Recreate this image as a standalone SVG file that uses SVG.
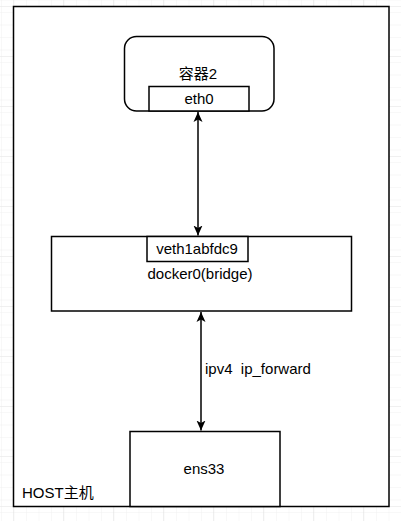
<svg xmlns="http://www.w3.org/2000/svg" width="401" height="521" viewBox="0 0 401 521">
<defs>
<pattern id="minor" x="13" y="6" width="12.5" height="12.5" patternUnits="userSpaceOnUse">
<path d="M0 0H12.5M0 0V12.5" fill="none" stroke="#f0f0f0" stroke-width="1"/>
</pattern>
<pattern id="major" x="13" y="6" width="50" height="50" patternUnits="userSpaceOnUse">
<rect width="50" height="50" fill="url(#minor)"/>
<path d="M0 0H50M0 0V50" fill="none" stroke="#e2e2e2" stroke-width="1"/>
</pattern>
<marker id="arr" viewBox="0 0 10 10" refX="10" refY="5" markerWidth="10" markerHeight="10" markerUnits="userSpaceOnUse" orient="auto-start-reverse">
<path d="M0 0.5L10 5L0 9.5L2.5 5Z" fill="#000"/>
</marker>
</defs>
<style>
.box{fill:#fff;stroke:#000;stroke-width:1.5}
.t{font-family:"Liberation Sans",Arial,"Noto Sans CJK SC",sans-serif;font-size:15px;fill:#000}
.c{text-anchor:middle}
.edge{stroke:#000;stroke-width:1.5;fill:none}
</style>
<rect width="401" height="521" fill="#fff"/>
<rect width="401" height="521" fill="url(#major)"/>
<g id="host">
<rect class="box" x="13.5" y="6.5" width="375.5" height="500"/>
<text class="t" x="22" y="498">HOST主机</text>
</g>
<g id="container2">
<rect class="box" x="124.5" y="36.5" width="149.5" height="74.5" rx="12" ry="12"/>
<text class="t c" x="198" y="79">容器2</text>
</g>
<g id="eth0">
<rect class="box" x="149" y="86.5" width="100" height="24.5"/>
<text class="t c" x="199" y="104">eth0</text>
</g>
<g id="docker0">
<rect class="box" x="51.5" y="236.5" width="300" height="74.5"/>
<text class="t c" x="200" y="279">docker0(bridge)</text>
</g>
<g id="veth">
<rect class="box" x="147" y="236.5" width="101" height="25"/>
<text class="t c" x="197" y="254">veth1abfdc9</text>
</g>
<g id="ens33">
<rect class="box" x="130" y="431.5" width="150" height="75"/>
<text class="t c" x="204" y="474">ens33</text>
</g>
<g id="connectors">
<line class="edge" x1="198" y1="112" x2="198" y2="235.5" marker-start="url(#arr)" marker-end="url(#arr)"/>
<line class="edge" x1="201" y1="312" x2="201" y2="430.5" marker-start="url(#arr)" marker-end="url(#arr)"/>
<text class="t" x="205" y="374" xml:space="preserve">ipv4  ip_forward</text>
</g>
</svg>
